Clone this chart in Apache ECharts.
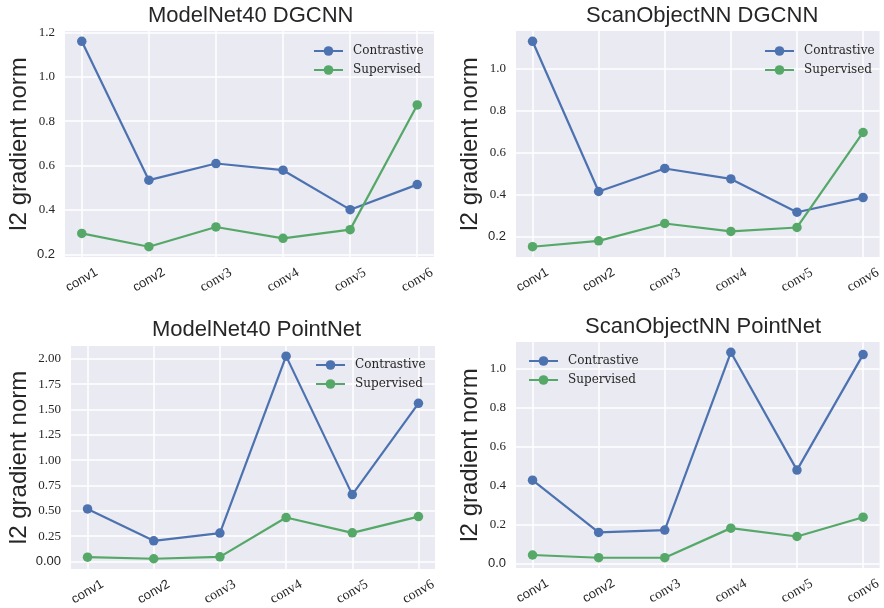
<!DOCTYPE html>
<html><head><meta charset="utf-8">
<script src="https://cdn.jsdelivr.net/npm/echarts@6/dist/echarts.min.js"></script>
<style>html,body{margin:0;padding:0;background:#fff}#c{width:884px;height:608px}</style>
</head><body><div id="c"></div>
<script>
// ---- data ----
const categories = ['conv1', 'conv2', 'conv3', 'conv4', 'conv5', 'conv6'];
const seriesNames = ['Contrastive', 'Supervised'];
const panelTitles = ['ModelNet40 DGCNN', 'ScanObjectNN DGCNN', 'ModelNet40 PointNet', 'ScanObjectNN PointNet'];
const yAxisTitle = 'l2 gradient norm';

const mn40DgcnnContrastive = [1.160, 0.534, 0.609, 0.579, 0.401, 0.514];
const mn40DgcnnSupervised  = [0.294, 0.234, 0.323, 0.272, 0.311, 0.873];
const sonnDgcnnContrastive = [1.132, 0.414, 0.524, 0.474, 0.315, 0.385];
const sonnDgcnnSupervised  = [0.150, 0.178, 0.261, 0.223, 0.242, 0.696];
const mn40PointnetContrastive = [0.519, 0.204, 0.280, 2.027, 0.660, 1.561];
const mn40PointnetSupervised  = [0.043, 0.027, 0.046, 0.434, 0.283, 0.443];
const sonnPointnetContrastive = [0.427, 0.159, 0.171, 1.084, 0.479, 1.072];
const sonnPointnetSupervised  = [0.043, 0.029, 0.029, 0.181, 0.138, 0.237];

const yTicks1 = [0.2, 0.4, 0.6, 0.8, 1.0, 1.2];
const yTicks2 = [0.2, 0.4, 0.6, 0.8, 1.0];
const yTicks3 = [0.00, 0.25, 0.50, 0.75, 1.00, 1.25, 1.50, 1.75, 2.00];
const yTicks4 = [0.0, 0.2, 0.4, 0.6, 0.8, 1.0];
const yTickDecimals = [1, 1, 2, 1];

// ---- layout / style ----
const panelData = [
  [mn40DgcnnContrastive, mn40DgcnnSupervised],
  [sonnDgcnnContrastive, sonnDgcnnSupervised],
  [mn40PointnetContrastive, mn40PointnetSupervised],
  [sonnPointnetContrastive, sonnPointnetSupervised]
];
const panelTicks = [yTicks1, yTicks2, yTicks3, yTicks4];
const grids = [
  {left: 65, top: 31, width: 369, height: 226},
  {left: 516, top: 31, width: 368, height: 226},
  {left: 71, top: 346, width: 364, height: 223},
  {left: 516, top: 342, width: 368, height: 226}
];
const titlePos = [{left: 148, top: 5}, {left: 586, top: 5}, {left: 152, top: 319}, {left: 585, top: 316}];
const legendPos = [{left: 313, top: 45}, {left: 764, top: 45}, {left: 315, top: 359}, {left: 528, top: 355}];
const colors = ['#4C72B0', '#55A868'];
const textColor = '#262626';
const serif = 'Liberation Serif';
const sans = 'Liberation Sans';

function paddedRange(arrs) {
  const all = [].concat(...arrs);
  const lo = Math.min(...all), hi = Math.max(...all);
  const m = (hi - lo) * 0.05;
  return [lo - m, hi + m];
}

const option = {
  animation: false,
  backgroundColor: '#ffffff',
  title: [], legend: [], grid: [], xAxis: [], yAxis: [], series: []
};

panelData.forEach((pair, p) => {
  const g = grids[p];
  option.grid.push({left: g.left, top: g.top, width: g.width, height: g.height,
    show: true, backgroundColor: '#EAEAF2', borderWidth: 0, containLabel: false});
  option.title.push({text: panelTitles[p], left: titlePos[p].left, top: titlePos[p].top, padding: 0,
    textStyle: {fontFamily: sans, fontSize: 22, fontWeight: 'normal', color: textColor}});
  option.legend.push({data: seriesNames, orient: 'vertical', left: legendPos[p].left, top: legendPos[p].top,
    padding: 0, itemWidth: 29, itemHeight: 12, itemGap: 7,
    textStyle: {fontFamily: 'DejaVu Serif', fontSize: 12, color: textColor, padding: [0, 0, 0, 5]}});
  option.xAxis.push({type: 'value', gridIndex: p, min: -0.25, max: 5.25,
    axisLine: {show: false},
    axisTick: {show: false, customValues: categories.map((c, i) => i)},
    splitLine: {show: true, lineStyle: {color: '#ffffff', width: 1.5}},
    axisLabel: {customValues: categories.map((c, i) => i), rotate: 30, margin: 23,
      align: 'center', verticalAlign: 'middle',
      formatter: v => { const i = Math.round(v); return (i < 2 ? '{s|' : '{r|') + categories[i] + '}'; },
      rich: {s: {fontFamily: sans, fontSize: 13, color: textColor}, r: {fontFamily: serif, fontSize: 14, color: textColor}}}
  });
  const rng = paddedRange(pair);
  const ticks = panelTicks[p];
  const dec = yTickDecimals[p];
  option.yAxis.push({type: 'value', gridIndex: p, min: rng[0], max: rng[1],
    name: yAxisTitle, nameLocation: 'middle', nameGap: 34,
    nameTextStyle: {fontFamily: sans, fontSize: 24, color: textColor},
    axisLine: {show: false},
    axisTick: {show: false, customValues: ticks},
    splitLine: {show: true, lineStyle: {color: '#ffffff', width: 1.5}},
    axisLabel: {customValues: ticks, margin: 10,
      formatter: v => (Math.abs(v - ticks[0]) < 1e-9 ? '{s|' : '{r|') + v.toFixed(dec) + '}',
      rich: {s: {fontFamily: sans, fontSize: 13, color: textColor}, r: {fontFamily: serif, fontSize: 13, color: textColor}}}
  });
  pair.forEach((vals, s) => {
    option.series.push({type: 'line', name: seriesNames[s], xAxisIndex: p, yAxisIndex: p,
      data: vals.map((v, i) => [i, v]),
      symbol: 'circle', symbolSize: 9.5, showSymbol: true,
      lineStyle: {color: colors[s], width: 2.2}, itemStyle: {color: colors[s]},
      clip: false});
  });
});

const chart = echarts.init(document.getElementById('c'), null, {renderer: 'canvas'});
chart.setOption(option);
</script>
</body></html>
